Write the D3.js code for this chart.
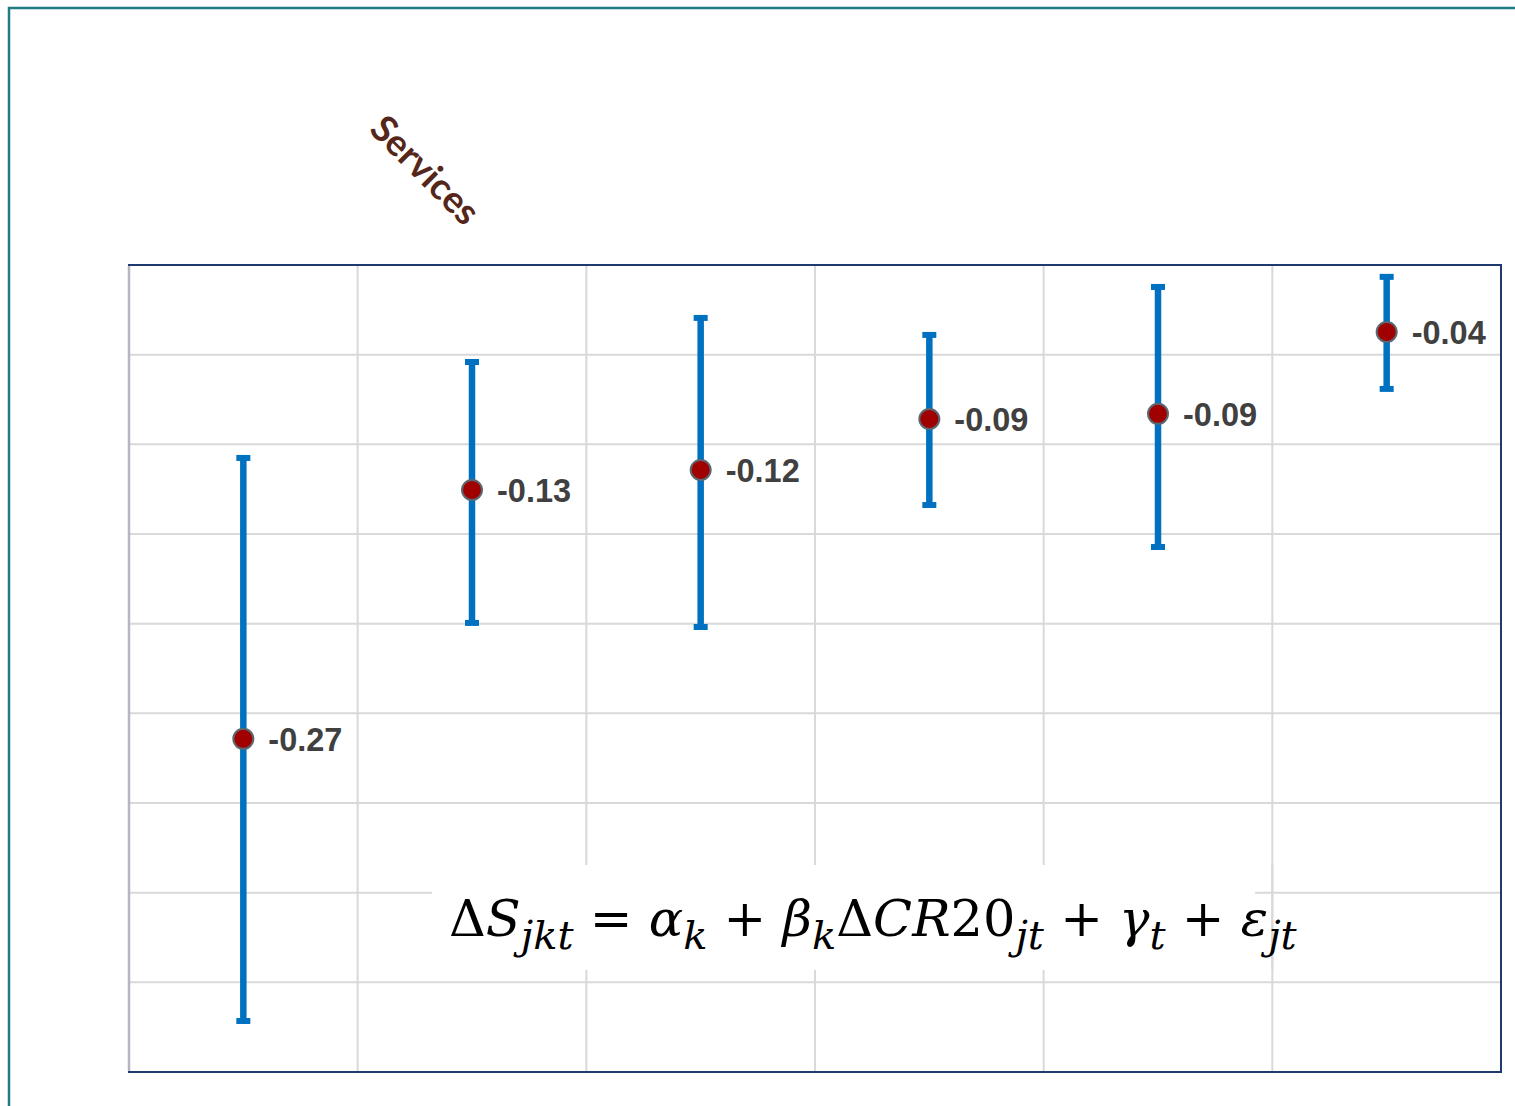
<!DOCTYPE html>
<html>
<head>
<meta charset="utf-8">
<script src="https://cdn.jsdelivr.net/npm/d3@7"></script>
<style>
    body { margin: 0; background: #fff; }
    svg { display: block; }
</style>
</head>
<body>
<div id="chart"></div>
<script>
// values
const categories = ['c1', 'c2', 'c3', 'c4', 'c5', 'c6']
const estimates = [-0.270, -0.1294, -0.1181, -0.0893, -0.0864, -0.0401]
const upper = [-0.1113, -0.0571, -0.0322, -0.0418, -0.0147, -0.0090]
const lower = [-0.4294, -0.2045, -0.2068, -0.1379, -0.1616, -0.0723]
const yDomain = [-0.4582, -0.0023]
const gridCount = 9

const width = 1515
const height = 1106
const plot = { left: 129, top: 265, right: 1501, bottom: 1072 }

const svg = d3.select('#chart')
    .append('svg')
    .attr('width', width)
    .attr('height', height)

// outer frame
svg.append('path')
    .attr('d', 'M9,' + height + 'V8H' + width)
    .attr('fill', 'none')
    .attr('stroke', '#217b84')
    .attr('stroke-width', 2.5)

const x = d3.scaleBand()
    .domain(categories)
    .range([plot.left, plot.right])

const y = d3.scaleLinear()
    .domain(yDomain)
    .range([plot.bottom, plot.top])

const gridY = d3.scaleLinear()
    .domain([0, gridCount])
    .range([plot.top, plot.bottom])

const grid = svg.append('g')

// horizontal grid
grid.selectAll('.hgrid')
    .data(d3.range(1, gridCount))
    .enter()
    .append('line')
    .attr('x1', plot.left)
    .attr('x2', plot.right)
    .attr('y1', d => gridY(d))
    .attr('y2', d => gridY(d))
    .attr('stroke', '#d9d9d9')
    .attr('stroke-width', 2)

// vertical grid between categories
grid.selectAll('.vgrid')
    .data(categories.slice(1))
    .enter()
    .append('line')
    .attr('x1', d => x(d))
    .attr('x2', d => x(d))
    .attr('y1', plot.top)
    .attr('y2', plot.bottom)
    .attr('stroke', '#d9d9d9')
    .attr('stroke-width', 2)

// white box behind the equation
svg.append('rect')
    .attr('x', 432)
    .attr('y', 865)
    .attr('width', 823)
    .attr('height', 105)
    .attr('fill', '#fff')

// the last vertical gridline shows through the box
svg.append('line')
    .attr('x1', x(categories[5]))
    .attr('x2', x(categories[5]))
    .attr('y1', 865)
    .attr('y2', 970)
    .attr('stroke', '#d9d9d9')
    .attr('stroke-width', 2)

// plot area border
svg.append('rect')
    .attr('x', plot.left)
    .attr('y', plot.top)
    .attr('width', plot.right - plot.left)
    .attr('height', plot.bottom - plot.top)
    .attr('fill', 'none')
    .attr('stroke', '#1f3a6e')
    .attr('stroke-width', 2)

svg.append('line')
    .attr('x1', plot.left)
    .attr('x2', plot.left)
    .attr('y1', plot.top + 1)
    .attr('y2', plot.bottom - 1)
    .attr('stroke', '#b3b7bf')
    .attr('stroke-width', 2.5)

const cx = d => x(d) + x.bandwidth() / 2

const bars = svg.append('g')
const capW = 14

bars.selectAll('.err')
    .data(categories)
    .enter()
    .append('line')
    .attr('x1', cx)
    .attr('x2', cx)
    .attr('y1', (d, i) => y(upper[i]))
    .attr('y2', (d, i) => y(lower[i]))
    .attr('stroke', '#0070c0')
    .attr('stroke-width', 6.5)

bars.selectAll('.capTop')
    .data(categories)
    .enter()
    .append('line')
    .attr('x1', d => cx(d) - capW / 2)
    .attr('x2', d => cx(d) + capW / 2)
    .attr('y1', (d, i) => y(upper[i]))
    .attr('y2', (d, i) => y(upper[i]))
    .attr('stroke', '#0070c0')
    .attr('stroke-width', 6)

bars.selectAll('.capBot')
    .data(categories)
    .enter()
    .append('line')
    .attr('x1', d => cx(d) - capW / 2)
    .attr('x2', d => cx(d) + capW / 2)
    .attr('y1', (d, i) => y(lower[i]))
    .attr('y2', (d, i) => y(lower[i]))
    .attr('stroke', '#0070c0')
    .attr('stroke-width', 6)

bars.selectAll('circle')
    .data(categories)
    .enter()
    .append('circle')
    .attr('cx', cx)
    .attr('cy', (d, i) => y(estimates[i]))
    .attr('r', 10)
    .attr('fill', '#a00000')
    .attr('stroke', '#5c6670')
    .attr('stroke-width', 2)

bars.selectAll('.lbl')
    .data(categories)
    .enter()
    .append('text')
    .attr('x', d => cx(d) + 25)
    .attr('y', (d, i) => y(estimates[i]) + 12)
    .attr('fill', '#404040')
    .style('font-family', 'Liberation Sans, Arial, sans-serif')
    .style('font-weight', 'bold')
    .style('font-size', '32.5px')
    .text((d, i) => estimates[i].toFixed(2))

// rotated category title
svg.append('text')
    .attr('transform', 'translate(368,131) rotate(45)')
    .attr('fill', '#55261a')
    .style('font-family', 'Lato, sans-serif')
    .style('font-weight', 'bold')
    .style('font-size', '37px')
    .text('Services')

// the equation
const eq = svg.append('text')
    .attr('x', 449)
    .attr('y', 936)
    .attr('fill', '#000')
    .style('font-family', 'DejaVu Serif, Liberation Serif, serif')
    .style('font-size', '51px')

const parts = [
    ['Δ', 'normal', 0], ['S', 'italic', 0], ['jkt', 'italic', 1],
    [' = ', 'normal', 0], ['α', 'italic', 0], ['k', 'italic', 1],
    [' + ', 'normal', 0], ['β', 'italic', 0], ['k', 'italic', 1],
    ['Δ', 'normal', 0], ['CR', 'italic', 0], ['20', 'normal', 0], ['jt', 'italic', 1],
    [' + ', 'normal', 0], ['γ', 'italic', 0], ['t', 'italic', 1],
    [' + ', 'normal', 0], ['ε', 'italic', 0], ['jt', 'italic', 1]
]

let prevSub = 0
parts.forEach(p => {
    let dy = 0
    if (p[2] == 1 && prevSub == 0) dy = 13
    if (p[2] == 0 && prevSub == 1) dy = -13
    eq.append('tspan')
        .attr('dy', dy)
        .style('font-style', p[1])
        .style('font-size', p[2] == 1 ? '40px' : '51px')
        .style('white-space', 'pre')
        .text(p[0])
    prevSub = p[2]
})
</script>
</body>
</html>
